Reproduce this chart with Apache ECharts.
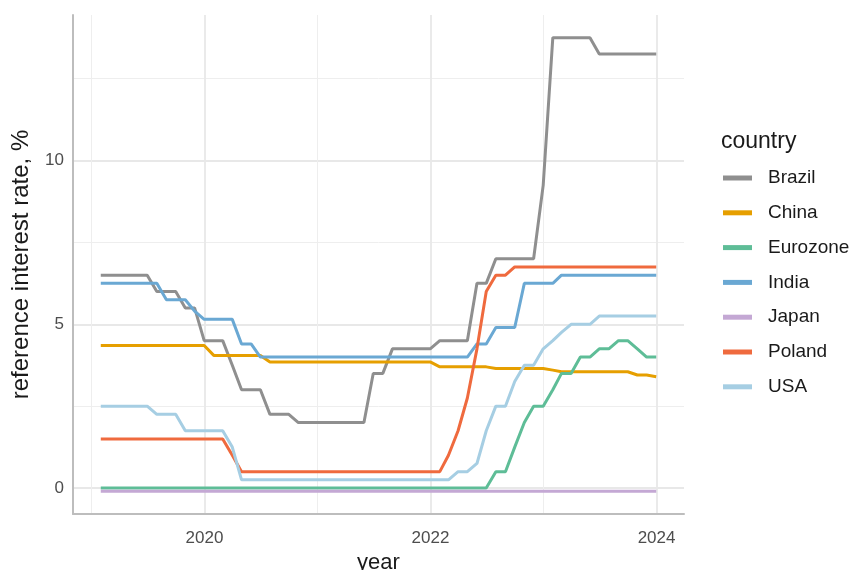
<!DOCTYPE html>
<html>
<head>
<meta charset="utf-8">
<script src="https://cdn.jsdelivr.net/npm/echarts@6/dist/echarts.min.js"></script>
<style>
  html, body { margin: 0; padding: 0; background: #fff; }
  #chart { width: 851px; height: 570px; }
</style>
</head>
<body>
<div id="chart"></div>
<script>
// monthly data, Jan 2019 .. Dec 2023 (month-end)
var startYear = 2019;
var nMonths = 60;
var countries = ['Brazil', 'China', 'Eurozone', 'India', 'Japan', 'Poland', 'USA'];
var colors = ['#8f8f8f', '#E69F00', '#5EBD97', '#6AA8D3', '#C4A8D4', '#EF6A3E', '#A6CEE3'];

var brazil = [
  6.5, 6.5, 6.5, 6.5, 6.5, 6.5, 6, 6, 6, 5.5, 5.5, 4.5,
  4.5, 4.5, 3.75, 3, 3, 3, 2.25, 2.25, 2.25, 2, 2, 2,
  2, 2, 2, 2, 2, 3.5, 3.5, 4.25, 4.25, 4.25, 4.25, 4.25,
  4.5, 4.5, 4.5, 4.5, 6.25, 6.25, 7, 7, 7, 7, 7, 9.25,
  13.75, 13.75, 13.75, 13.75, 13.75, 13.25, 13.25, 13.25, 13.25, 13.25, 13.25, 13.25
];
var china = [
  4.35, 4.35, 4.35, 4.35, 4.35, 4.35, 4.35, 4.35, 4.35, 4.35, 4.35, 4.35,
  4.05, 4.05, 4.05, 4.05, 4.05, 4.05, 3.85, 3.85, 3.85, 3.85, 3.85, 3.85,
  3.85, 3.85, 3.85, 3.85, 3.85, 3.85, 3.85, 3.85, 3.85, 3.85, 3.85, 3.85,
  3.7, 3.7, 3.7, 3.7, 3.7, 3.7, 3.65, 3.65, 3.65, 3.65, 3.65, 3.65,
  3.6, 3.55, 3.55, 3.55, 3.55, 3.55, 3.55, 3.55, 3.55, 3.45, 3.45, 3.4
];
var eurozone = [
  0, 0, 0, 0, 0, 0, 0, 0, 0, 0, 0, 0,
  0, 0, 0, 0, 0, 0, 0, 0, 0, 0, 0, 0,
  0, 0, 0, 0, 0, 0, 0, 0, 0, 0, 0, 0,
  0, 0, 0, 0, 0, 0, 0.5, 0.5, 1.25, 2, 2.5, 2.5,
  3, 3.5, 3.5, 4, 4, 4.25, 4.25, 4.5, 4.5, 4.25, 4, 4
];
var india = [
  6.25, 6.25, 6.25, 6.25, 6.25, 6.25, 6.25, 5.75, 5.75, 5.75, 5.4, 5.15,
  5.15, 5.15, 5.15, 4.4, 4.4, 4, 4, 4, 4, 4, 4, 4,
  4, 4, 4, 4, 4, 4, 4, 4, 4, 4, 4, 4,
  4, 4, 4, 4, 4.4, 4.4, 4.9, 4.9, 4.9, 6.25, 6.25, 6.25,
  6.25, 6.5, 6.5, 6.5, 6.5, 6.5, 6.5, 6.5, 6.5, 6.5, 6.5, 6.5
];
var japan = [
  -0.1, -0.1, -0.1, -0.1, -0.1, -0.1, -0.1, -0.1, -0.1, -0.1, -0.1, -0.1,
  -0.1, -0.1, -0.1, -0.1, -0.1, -0.1, -0.1, -0.1, -0.1, -0.1, -0.1, -0.1,
  -0.1, -0.1, -0.1, -0.1, -0.1, -0.1, -0.1, -0.1, -0.1, -0.1, -0.1, -0.1,
  -0.1, -0.1, -0.1, -0.1, -0.1, -0.1, -0.1, -0.1, -0.1, -0.1, -0.1, -0.1,
  -0.1, -0.1, -0.1, -0.1, -0.1, -0.1, -0.1, -0.1, -0.1, -0.1, -0.1, -0.1
];
var poland = [
  1.5, 1.5, 1.5, 1.5, 1.5, 1.5, 1.5, 1.5, 1.5, 1.5, 1.5, 1.5,
  1.5, 1.5, 1, 0.5, 0.5, 0.5, 0.5, 0.5, 0.5, 0.5, 0.5, 0.5,
  0.5, 0.5, 0.5, 0.5, 0.5, 0.5, 0.5, 0.5, 0.5, 0.5, 0.5, 0.5,
  0.5, 1, 1.75, 2.75, 4.25, 6, 6.5, 6.5, 6.75, 6.75, 6.75, 6.75,
  6.75, 6.75, 6.75, 6.75, 6.75, 6.75, 6.75, 6.75, 6.75, 6.75, 6.75, 6.75
];
var usa = [
  2.5, 2.5, 2.5, 2.5, 2.5, 2.5, 2.25, 2.25, 2.25, 1.75, 1.75, 1.75,
  1.75, 1.75, 1.25, 0.25, 0.25, 0.25, 0.25, 0.25, 0.25, 0.25, 0.25, 0.25,
  0.25, 0.25, 0.25, 0.25, 0.25, 0.25, 0.25, 0.25, 0.25, 0.25, 0.25, 0.25,
  0.25, 0.25, 0.5, 0.5, 0.75, 1.75, 2.5, 2.5, 3.25, 3.75, 3.75, 4.25,
  4.5, 4.75, 5, 5, 5, 5.25, 5.25, 5.25, 5.25, 5.25, 5.25, 5.25
];
var values = [brazil, china, eurozone, india, japan, poland, usa];

var xMajor = [2020, 2022, 2024];
var xMinor = [2019, 2021, 2023];
var yMajor = [0, 5, 10];
var yMinor = [2.5, 7.5, 12.5];

// month-end dates as decimal years
function monthEnd(i) {
  var y = startYear + Math.floor(i / 12), m = i % 12;
  var t0 = Date.UTC(y, 0, 1), t1 = Date.UTC(y + 1, 0, 1);
  var t = Date.UTC(y, m + 1, 0);
  return y + (t - t0) / (t1 - t0);
}
var years = [];
for (var i = 0; i < nMonths; i++) years.push(monthEnd(i));

// ggplot-like 5% expansion
var xMin = years[0] - 0.05 * (years[nMonths - 1] - years[0]);
var xMax = years[nMonths - 1] + 0.05 * (years[nMonths - 1] - years[0]);
var yMin = -0.1 - 0.05 * 13.85;
var yMax = 13.75 + 0.05 * 13.85;

var font = 'Liberation Sans, Arial, sans-serif';
var myChart = echarts.init(document.getElementById('chart'));

var series = countries.map(function (c, k) {
  return {
    name: c,
    type: 'line',
    xAxisIndex: 0,
    yAxisIndex: 0,
    showSymbol: false,
    symbol: 'none',
    color: colors[k],
    lineStyle: { width: 3, color: colors[k] },
    itemStyle: { color: colors[k] },
    data: years.map(function (x, j) { return [x, values[k][j]]; })
  };
});

var option = {
  animation: false,
  backgroundColor: '#fff',
  title: {
    text: 'country',
    left: 721,
    top: 130,
    padding: 0,
    textStyle: { fontFamily: font, fontSize: 23, fontWeight: 'normal', color: '#1a1a1a' }
  },
  legend: {
    orient: 'vertical',
    left: 723,
    top: 167,
    padding: 0,
    icon: 'rect',
    itemWidth: 29,
    itemHeight: 5,
    itemGap: 12.8,
    textStyle: { fontFamily: font, fontSize: 19, color: '#1a1a1a', lineHeight: 22, padding: [0, 0, 0, 11] },
    data: countries
  },
  grid: { left: 73, right: 167, top: 15, bottom: 56, containLabel: false, outerBoundsMode: 'none' },
  xAxis: [
    {
      type: 'value', min: xMin, max: xMax, position: 'bottom',
      name: 'year', nameLocation: 'middle', nameGap: 31,
      nameTextStyle: { fontFamily: font, fontSize: 22, color: '#1a1a1a' },
      axisLine: { show: true, onZero: false, lineStyle: { color: '#bdbdbd', width: 2 } },
      axisTick: { show: false, customValues: xMajor },
      axisLabel: {
        customValues: xMajor, margin: 16, fontFamily: font, fontSize: 17, color: '#4d4d4d',
        formatter: function (v) { return String(v); }
      },
      splitLine: { show: true, lineStyle: { color: '#e8e8e8', width: 1.8 } }
    },
    {
      type: 'value', min: xMin, max: xMax, position: 'bottom',
      axisLine: { show: false, onZero: false },
      axisTick: { show: false, customValues: xMinor },
      axisLabel: { show: false },
      splitLine: { show: true, lineStyle: { color: '#eeeeee', width: 1 } }
    }
  ],
  yAxis: [
    {
      type: 'value', min: yMin, max: yMax, position: 'left',
      name: 'reference interest rate, %', nameLocation: 'middle', nameGap: 40,
      nameTextStyle: { fontFamily: font, fontSize: 24, color: '#1a1a1a' },
      axisLine: { show: true, onZero: false, lineStyle: { color: '#bdbdbd', width: 2 } },
      axisTick: { show: false, customValues: yMajor },
      axisLabel: {
        customValues: yMajor, margin: 9, fontFamily: font, fontSize: 17, color: '#4d4d4d',
        formatter: function (v) { return String(v); }
      },
      splitLine: { show: true, lineStyle: { color: '#e8e8e8', width: 1.8 } }
    },
    {
      type: 'value', min: yMin, max: yMax, position: 'left',
      axisLine: { show: false, onZero: false },
      axisTick: { show: false, customValues: yMinor },
      axisLabel: { show: false },
      splitLine: { show: true, lineStyle: { color: '#eeeeee', width: 1 } }
    }
  ],
  series: series
};

myChart.setOption(option);
</script>
</body>
</html>
